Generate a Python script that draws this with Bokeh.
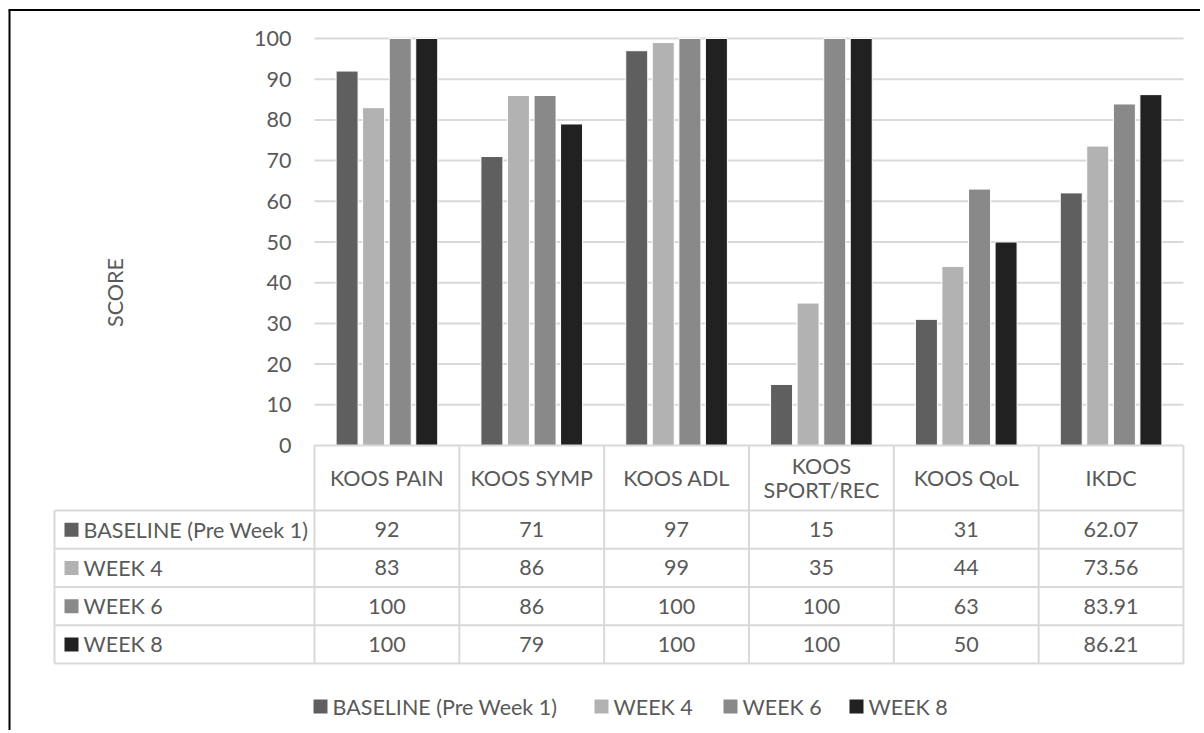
import numpy as np
from bokeh.plotting import figure
from bokeh.models import Range1d, ColumnDataSource
from bokeh.transform import dodge
from bokeh.core.properties import value
from bokeh.embed import file_html
from bokeh.resources import INLINE

# ---------------- data ----------------
categories = ["KOOS PAIN", "KOOS SYMP", "KOOS ADL", "KOOS\nSPORT/REC", "KOOS QoL", "IKDC"]
series_names = ["BASELINE (Pre Week 1)", "WEEK 4", "WEEK 6", "WEEK 8"]
baseline = [92, 71, 97, 15, 31, 62.07]
week4 = [83, 86, 99, 35, 44, 73.56]
week6 = [100, 86, 100, 100, 63, 83.91]
week8 = [100, 79, 100, 100, 50, 86.21]
y_ticks = [0, 10, 20, 30, 40, 50, 60, 70, 80, 90, 100]
axis_title = "SCORE"

# ---------------- style ----------------
colors = ["#5f5f5f", "#b2b2b2", "#898989", "#212121"]
TXT = "#595959"
LINE = "#d9d9d9"
FONT = value("Lato")
FS = value("21.5px")

ORG = 0.0  # page offset of the canvas
W, H = 1200, 730
PLOT_L, PLOT_T, PLOT_B = 314.0, 38.0, 445.0
CAT_W = 144.83
XS = CAT_W
YS = (PLOT_B - PLOT_T) / 100.0


def X(px):
    return (px - PLOT_L) / XS


def Y(py):
    return (PLOT_B - py) / YS


p = figure(width=W, height=H,
           x_range=Range1d(X(ORG), X(ORG + W)), y_range=Range1d(Y(ORG + H), Y(ORG)),
           output_backend="svg", toolbar_location=None, min_border=0,
           x_axis_type=None, y_axis_type=None, outline_line_color=None,
           background_fill_color="white", border_fill_color="white")

n = len(categories)
xc = np.arange(n) + 0.5

# outer border (left and top)
p.segment(x0=[X(9), X(8)], y0=[Y(ORG + H), Y(9.5)], x1=[X(9), X(ORG + W)], y1=[Y(9.5), Y(9.5)],
          line_color="black", line_width=2)

# gridlines
grid_vals = [t for t in y_ticks if t > 0]
p.segment(x0=[0] * len(grid_vals), y0=grid_vals, x1=[n] * len(grid_vals), y1=grid_vals,
          line_color=LINE, line_width=2)

# bars
src = ColumnDataSource(dict(x=xc, b=baseline, w4=week4, w6=week6, w8=week8))
offsets = [-0.275, -0.092, 0.092, 0.275]
cols = ["b", "w4", "w6", "w8"]
bw = 22 / XS
for c, off, col in zip(cols, offsets, colors):
    p.vbar(x=dodge("x", off), top=c, bottom=0, width=bw, source=src,
           fill_color=col, line_color="white", line_width=1)

# y tick labels
p.text(x=[X(291)] * len(y_ticks), y=y_ticks, text=[str(t) for t in y_ticks],
       text_align="right", text_baseline="middle", text_color=TXT,
       text_font=FONT, text_font_size=FS)

# axis title
p.text(x=[X(114)], y=[Y(292)], text=[axis_title], angle=np.pi / 2,
       text_align="center", text_baseline="middle", text_color=TXT,
       text_font=FONT, text_font_size=FS)

# ---------------- data table ----------------
TBL_L = 54.0
HDR_B = 510.0
ROW_H = 38.25
row_bounds = [HDR_B + i * ROW_H for i in range(len(series_names) + 1)]
TBL_B = row_bounds[-1]

# horizontal lines
hx0 = [0] + [X(TBL_L)] * len(row_bounds)
hy = [0] + [Y(v) for v in row_bounds]
hx1 = [n] * len(hx0)
p.segment(x0=hx0, y0=hy, x1=hx1, y1=hy, line_color=LINE, line_width=2)
# vertical lines
vx = list(range(n + 1)) + [X(TBL_L)]
vy0 = [0] * (n + 1) + [Y(HDR_B)]
vy1 = [Y(TBL_B)] * (n + 2)
p.segment(x0=vx, y0=vy0, x1=vx, y1=vy1, line_color=LINE, line_width=2)

# header texts
p.text(x=xc, y=[Y((PLOT_B + HDR_B) / 2)] * n, text=categories,
       text_align="center", text_baseline="middle", text_color=TXT,
       text_font=FONT, text_font_size=FS, text_line_height=0.95)


def fmt(v):
    return str(int(v)) if float(v).is_integer() else f"{v:.2f}"


series = [baseline, week4, week6, week8]
for r, (name, vals, col) in enumerate(zip(series_names, series, colors)):
    yc = Y(row_bounds[r] + ROW_H / 2)
    p.scatter(x=[X(71)], y=[yc], marker="square", size=14, fill_color=col, line_color=None)
    p.text(x=[X(83)], y=[yc], text=[name], text_align="left", text_baseline="middle",
           text_color=TXT, text_font=FONT, text_font_size=FS)
    p.text(x=xc, y=[yc] * n, text=[fmt(v) for v in vals], text_align="center",
           text_baseline="middle", text_color=TXT, text_font=FONT, text_font_size=FS)

# ---------------- legend ----------------
LEG_Y = Y(706)
leg_tx = [332, 613, 742, 868]
leg_sq = [t - 12 for t in leg_tx]
p.scatter(x=[X(v) for v in leg_sq], y=[LEG_Y] * 4, marker="square", size=14,
          fill_color=colors, line_color=None)
p.text(x=[X(v) for v in leg_tx], y=[LEG_Y] * 4, text=series_names, text_align="left",
       text_baseline="middle", text_color=TXT, text_font=FONT, text_font_size=FS)

open("out.html", "w").write(file_html(p, INLINE))
